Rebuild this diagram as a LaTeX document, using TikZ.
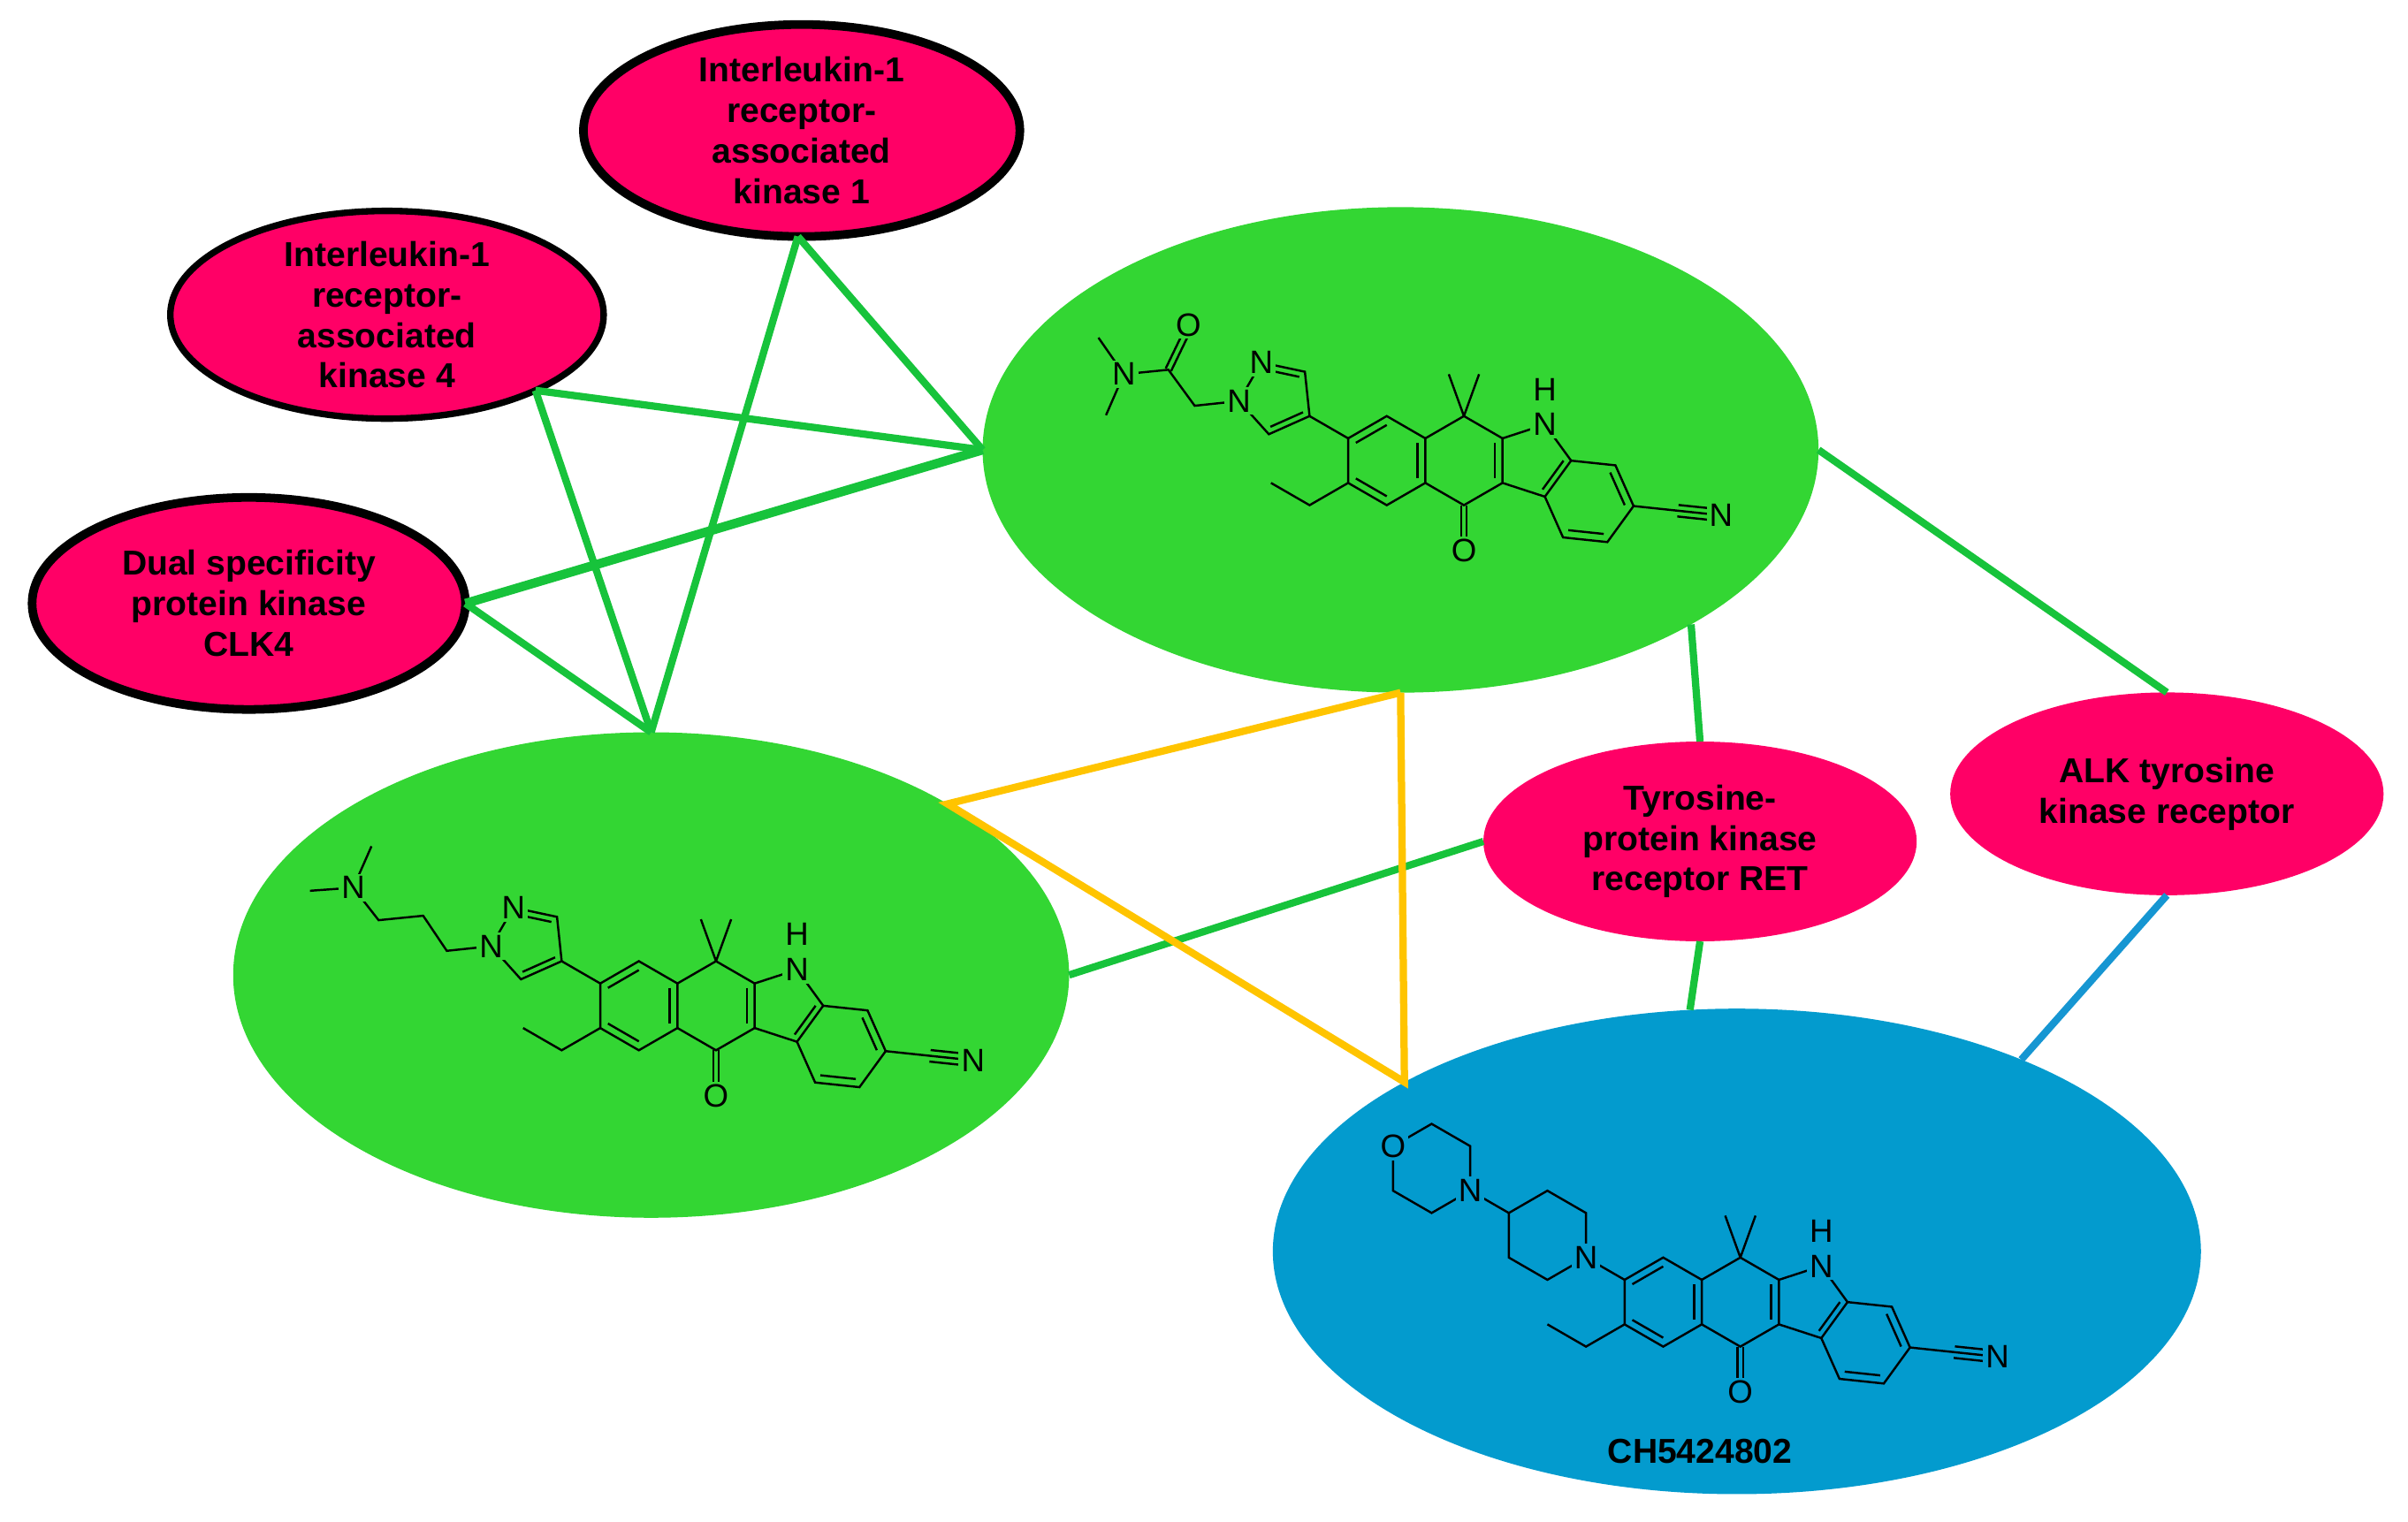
\documentclass[tikz,border=0pt]{standalone}
\usepackage{fontspec}
\setmainfont{Liberation Sans}
\usetikzlibrary{shapes.geometric,calc}
\definecolor{mag}{RGB}{255,0,102}
\definecolor{gfill}{RGB}{51,214,51}
\definecolor{bfill}{RGB}{3,155,206}
\definecolor{gline}{RGB}{23,195,59}
\definecolor{yline}{RGB}{255,196,0}
\definecolor{bline}{RGB}{22,150,210}
\tikzset{
 ell/.style={ellipse,inner sep=0pt,outer sep=0pt,align=center,font=\fontsize{6.4}{7.5}\selectfont\bfseries},
 prot/.style={ell,fill=mag},
 cmpd/.style={ell},
 con/.style={line width=1.35pt,draw=gline},
 bond/.style={line width=0.4pt},
 atom/.style={inner sep=0.5pt,font=\fontsize{6}{7}\selectfont},
}
\newcommand\dbl[3]{\draw[bond] ($(#1)!0.2!(#3)$) -- ($(#2)!0.2!(#3)$);}
\newcommand\mcore[1]{%
 \coordinate (a1) at (-0.866,0.5); \coordinate (a2) at (0,1); \coordinate (a3) at (0.866,0.5);
 \coordinate (a4) at (0.866,-0.5); \coordinate (a5) at (0,-1); \coordinate (a6) at (-0.866,-0.5);
 \coordinate (ca) at (0,0); \coordinate (cb) at (1.732,0); \coordinate (cp) at (3.286,0); \coordinate (cc) at (4.544,-0.914);
 \coordinate (b2) at (1.732,1); \coordinate (b3) at (2.598,0.5); \coordinate (b4) at (2.598,-0.5); \coordinate (b5) at (1.732,-1);
 \coordinate (pn) at (3.549,0.809); \coordinate (p7) at (4.137,0); \coordinate (p3) at (3.549,-0.809);
 \coordinate (c1) at (5.132,-0.105); \coordinate (c2) at (5.539,-1.019); \coordinate (c3) at (4.951,-1.828); \coordinate (c4) at (3.956,-1.723);
 \draw[bond] (a1)--(a2)--(a3)--(a4)--(a5)--(a6)--cycle;
 \draw[bond] (a3)--(b2)--(b3)--(b4)--(b5)--(a4);
 \draw[bond] (b3)--(pn)--(p7)--(p3)--(b4);
 \draw[bond] (p7)--(c1)--(c2)--(c3)--(c4)--(p3);
 \dbl{a1}{a2}{ca}\dbl{a3}{a4}{ca}\dbl{a5}{a6}{ca}\dbl{b3}{b4}{cb}\dbl{p7}{p3}{cp}\dbl{c1}{c2}{cc}\dbl{c3}{c4}{cc}
 \draw[bond] (1.67,-1)--(1.67,-1.8) (1.794,-1)--(1.794,-1.8);
 \draw[bond] (b2)--(1.392,1.94) (b2)--(2.072,1.94);
 \draw[bond] (a6)--(-1.732,-1)--(-2.598,-0.5);
 \draw[bond] (a1)--(-1.732,1);
 \draw[bond] (c2)--(6.534,-1.124);
 \draw[bond] (6.534,-1.124)--(7.429,-1.218) (6.548,-0.995)--(7.2,-1.063) (6.52,-1.253)--(7.2,-1.325);
 \node[atom,fill=#1] at (pn) {N};
 \node[atom] at (3.549,1.6) {H};
 \node[atom,fill=#1] at (1.732,-2.02) {O};
 \node[atom,fill=#1] at (7.5,-1.23) {N};
}
\newcommand\pyraz{%
 \coordinate (q1) at (-1.732,1); \coordinate (q2) at (-1.837,1.995); \coordinate (q3) at (-2.815,2.203);
 \coordinate (q4) at (-3.315,1.337); \coordinate (q5) at (-2.646,0.593); \coordinate (qc) at (-2.469,1.4255);
 \draw[bond] (q1)--(q2)--(q3)--(q4)--(q5)--cycle;
 \dbl{q2}{q3}{qc}\dbl{q1}{q5}{qc}
}
\begin{document}
\begin{tikzpicture}[x=0.01cm,y=-0.01cm]
\useasboundingbox (0,0) rectangle (1568,991);
% ellipses
\node[prot,draw=black,line width=1.6pt,minimum width=2.84cm,minimum height=1.38cm] (irak1) at (522,85) {Interleukin-1\\receptor-\\associated\\kinase 1};
\node[prot,draw=black,line width=1.2pt,minimum width=2.82cm,minimum height=1.28cm] (irak4) at (252,205) {Interleukin-1\\receptor-\\associated\\kinase 4};
\node[prot,draw=black,line width=1.6pt,minimum width=2.82cm,minimum height=1.38cm] (clk4) at (162,393) {Dual specificity\\protein kinase\\CLK4};
\node[cmpd,fill=gfill,minimum width=5.44cm,minimum height=3.16cm] (gt) at (912,293) {};
\node[cmpd,fill=gfill,minimum width=5.44cm,minimum height=3.16cm] (gb) at (424,635) {};
\node[cmpd,fill=bfill,minimum width=6.04cm,minimum height=3.16cm] (bl) at (1131,815) {};
\node[prot,minimum width=2.82cm,minimum height=1.30cm] (ret) at (1107,548) {Tyrosine-\\protein kinase\\receptor RET};
\node[prot,minimum width=2.82cm,minimum height=1.32cm] (alk) at (1411,517) {ALK tyrosine\\kinase receptor};
\node[font=\fontsize{6.4}{7.5}\selectfont\bfseries] (lbl) at (1107,945) {CH5424802};
% connectors
\draw[con] (irak1.268) -- (gt.180);
\draw[con] (irak1.268) -- (gb.90);
\draw[con] (irak4.333) -- (gt.180);
\draw[con] (irak4.333) -- (gb.90);
\draw[con,line width=1.7pt] (clk4.0) -- (gt.180);
\draw[con] (clk4.0) -- (gb.90);
\draw[con] (gt.0) -- (alk.90);
\draw[con] (gt.329.6) -- (ret.90);
\draw[con] (ret.270) -- (bl.101);
\draw[con] (ret.180) -- (gb.0);
\draw[con,draw=bline] (alk.270) -- (bl.34);
\draw[con,draw=yline] (gt.270) -- (gb.30) -- (bl.153.7) -- (gt.270);
% top molecule
\begin{scope}[shift={(903,300)},x=0.29cm,y=0.29cm]
 \mcore{gfill}\pyraz
 \draw[bond] (q4)--(-4.31,1.232)--(-4.9,2.04)--(-5.9,1.94)--(-6.47,2.76) (-5.9,1.94)--(-6.3,1.02);
 \draw[bond] (-4.96,2.07)--(-4.56,2.9) (-4.84,2.01)--(-4.44,2.84);
 \node[atom,fill=gfill] at (q4) {N};
 \node[atom,fill=gfill] at (q3) {N};
 \node[atom,fill=gfill] at (-5.9,1.94) {N};
 \node[atom,fill=gfill] at (-4.45,3.05) {O};
\end{scope}
% bottom molecule
\begin{scope}[shift={(416,655)},x=0.29cm,y=0.29cm]
 \mcore{gfill}\pyraz
 \draw[bond] (q4)--(-4.31,1.232)--(-4.84,2.02)--(-5.84,1.92)--(-6.41,2.65)--(-7.38,2.58) (-6.41,2.65)--(-6.0,3.58);
 \node[atom,fill=gfill] at (q4) {N};
 \node[atom,fill=gfill] at (q3) {N};
 \node[atom,fill=gfill] at (-6.41,2.65) {N};
\end{scope}
% blue molecule
\begin{scope}[shift={(1083,848)},x=0.29cm,y=0.29cm]
 \mcore{bfill}
 \draw[bond] (-1.732,1)--(-1.732,2)--(-2.598,2.5)--(-3.464,2)--(-3.464,1)--(-2.598,0.5)--cycle;
 \draw[bond] (-3.464,2)--(-4.33,2.5);
 \draw[bond] (-4.33,2.5)--(-4.33,3.5)--(-5.196,4)--(-6.062,3.5)--(-6.062,2.5)--(-5.196,2)--cycle;
 \node[atom,fill=bfill] at (-1.732,1) {N};
 \node[atom,fill=bfill] at (-4.33,2.5) {N};
 \node[atom,fill=bfill] at (-6.062,3.5) {O};
\end{scope}
\end{tikzpicture}
\end{document}
